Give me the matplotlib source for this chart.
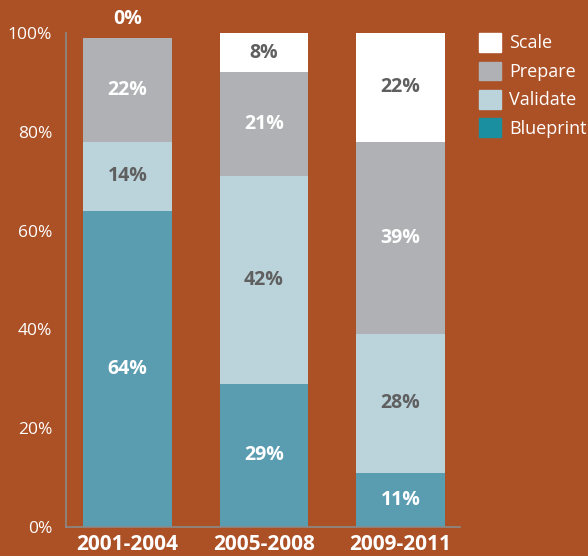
import matplotlib.pyplot as plt
from matplotlib.patches import Patch

plt.rcParams['font.family'] = ['Open Sans', 'DejaVu Sans']

periods = ['2001-2004', '2005-2008', '2009-2011']
blueprint = [64, 29, 11]
validate = [14, 42, 28]
prepare = [21, 21, 39]
scale = [0, 8, 22]

blueprint_lbl = ['64%', '29%', '11%']
validate_lbl = ['14%', '42%', '28%']
prepare_lbl = ['22%', '21%', '39%']
scale_lbl = ['0%', '8%', '22%']

bg = '#AC5026'
c_blue = '#5A9DB1'
c_valid = '#BBD3DB'
c_prep = '#B0B1B4'
c_scale = '#FFFFFF'
dark = '#5F5F5F'

fig = plt.figure(figsize=(5.88, 5.56), dpi=100, facecolor=bg)
ax = fig.add_axes([0.1122, 0.0522, 0.670, 0.8885])
ax.set_facecolor(bg)

x = range(len(periods))
w = 0.65
bottom = [0] * 3
series = [
    (blueprint, c_blue, blueprint_lbl, 'white'),
    (validate, c_valid, validate_lbl, dark),
    (prepare, c_prep, prepare_lbl, 'white'),
    (scale, c_scale, scale_lbl, dark),
]
for vals, col, lbls, tc in series:
    ax.bar(x, vals, w, bottom=bottom, color=col, edgecolor='none')
    for i, v in enumerate(vals):
        if v > 0:
            ax.text(i, bottom[i] + v / 2, lbls[i], ha='center', va='center',
                    fontsize=14, fontweight='bold', color=tc)
        else:
            ax.text(i, bottom[i] + 1.8, lbls[i], ha='center', va='bottom',
                    fontsize=14, fontweight='bold', color='white')
    bottom = [b + v for b, v in zip(bottom, vals)]

ax.set_xlim(-0.449, 2.434)
ax.set_ylim(0, 100)
ax.set_yticks(range(0, 101, 20))
ax.set_yticklabels([f'{t}%' for t in range(0, 101, 20)])
ax.set_xticks(list(x))
ax.set_xticklabels(periods, fontsize=15, fontweight='bold')
ax.tick_params(axis='y', length=0, colors='white', labelsize=12.5, pad=10)
ax.tick_params(axis='x', length=0, colors='white', pad=5)
for s in ['top', 'right']:
    ax.spines[s].set_visible(False)
for s in ['left', 'bottom']:
    ax.spines[s].set_color('#8A8A8A')
    ax.spines[s].set_linewidth(1.2)

handles = [Patch(color=c_scale, label='Scale'),
           Patch(color=c_prep, label='Prepare'),
           Patch(color=c_valid, label='Validate'),
           Patch(color='#1A8FA0', label='Blueprint')]
leg = fig.legend(handles=handles, loc='upper left', bbox_to_anchor=(0.8146, 0.9406),
                 frameon=False, fontsize=13, handlelength=1.22, handleheight=1.22,
                 handletextpad=0.45, labelspacing=0.5, borderaxespad=0, borderpad=0)
for t in leg.get_texts():
    t.set_color('white')

fig.savefig('out.png', dpi=100, facecolor=bg)
